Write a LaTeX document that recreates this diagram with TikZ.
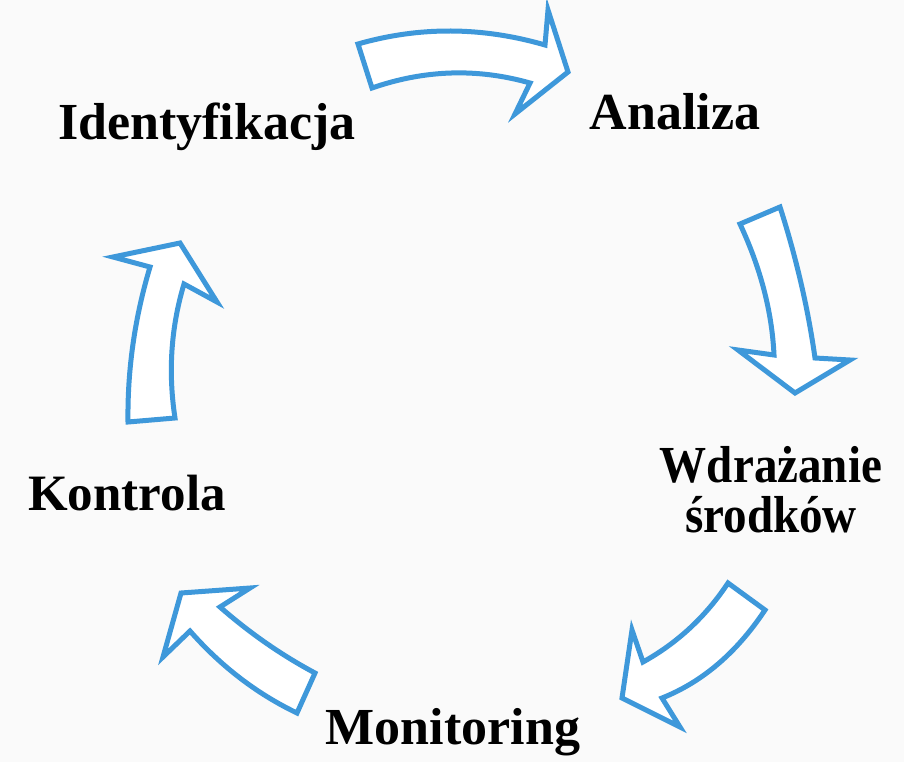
\documentclass[tikz,border=0pt]{standalone}
\usepackage{fontspec}
\setmainfont{Liberation Serif}
\newfontfamily\narrowserif[FakeStretch=0.905]{Liberation Serif}
\begin{document}
\begin{tikzpicture}[x=1pt,y=-1pt,
  cyclearrow/.style={draw=arrowblue, line width=5pt, line join=miter, fill=white},
  steplabel/.style={font=\bfseries\fontsize{52}{50}\selectfont, inner sep=0pt, anchor=base, align=center}]
  \definecolor{arrowblue}{RGB}{62,152,218}
  \definecolor{paper}{RGB}{250,250,250}
  \fill[paper] (0,0) rectangle (904,762);
  \useasboundingbox (0,0) rectangle (904,762);

  % stage labels
  \node[steplabel] (ident) at (207,140) {Identyfikacja};
  \node[steplabel] (anal)  at (675,130) {Analiza};
  \node[steplabel, font=\narrowserif\bfseries\fontsize{52}{50}\selectfont] (wdr) at (771,532) {Wdrażanie\\środków};
  \node[steplabel] (mon)   at (453,744) {Monitoring};
  \node[steplabel, font=\bfseries\fontsize{51}{50}\selectfont] (kontr) at (127,510) {Kontrola};

  % Identyfikacja -> Analiza
  \draw[cyclearrow] (358,44) .. controls (419.7,26.3) and (482,26.7) .. (545,45)
    -- (548,10) -- (568,72) -- (515,114) -- (530,83)
    .. controls (477.3,68) and (424.7,69.7) .. (372,88) -- cycle;

  % Analiza -> Wdrazanie
  \draw[cyclearrow] (740,224) -- (780,207)
    .. controls (796.3,258) and (808,308.3) .. (815,358)
    -- (850,360) -- (795,393) -- (738,350) -- (774,355)
    .. controls (772,312) and (760.7,268.3) .. (740,224) -- cycle;

  % Wdrazanie -> Monitoring
  \draw[cyclearrow] (728,583) .. controls (705.7,616.7) and (677.3,643) .. (643,662)
    -- (632,630) -- (622,698) -- (680,727) -- (662,698)
    .. controls (702.3,682) and (736.7,652.7) .. (765,610) -- cycle;

  % Monitoring -> Kontrola
  \draw[cyclearrow] (315,673) .. controls (281.3,655) and (249.7,633) .. (220,607)
    -- (250,588) -- (181,593) -- (163,657) -- (190,631)
    .. controls (221,666.3) and (256.7,693.7) .. (297,713) -- cycle;

  % Kontrola -> Identyfikacja
  \draw[cyclearrow] (128,422) -- (175,418)
    .. controls (168,372) and (171,327.3) .. (184,284)
    -- (217,302) -- (180,243) -- (113,257) -- (150,267)
    .. controls (134.7,318) and (127.3,369.7) .. (128,422) -- cycle;
\end{tikzpicture}
\end{document}
